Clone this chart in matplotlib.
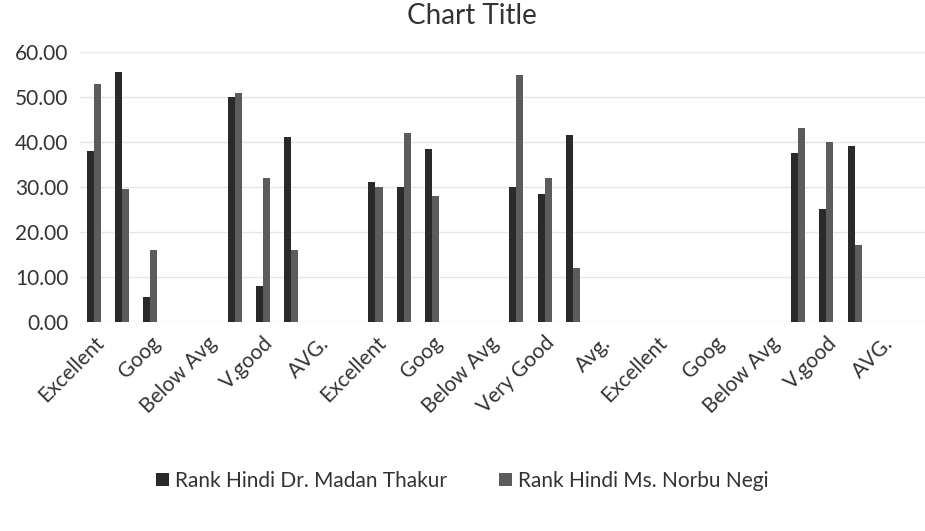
import numpy as np
import matplotlib
matplotlib.use("Agg")
import matplotlib.pyplot as plt

# 30 category slots on the x axis, Excel shows a label on every 2nd one
n_slots = 30
labels = ['Excellent', 'Goog', 'Below Avg', 'V.good', 'AVG.',
          'Excellent', 'Goog', 'Below Avg', 'Very Good', 'Avg.',
          'Excellent', 'Goog', 'Below Avg', 'V.good', 'AVG.']

nan = np.nan
# Rank Hindi Dr. Madan Thakur
madan = [38, 55.5, 5.5, nan, nan,
         50, 8, 41, nan, nan,
         31, 30, 38.5, nan, nan,
         30, 28.5, 41.5, nan, nan,
         nan, nan, nan, nan, nan,
         37.5, 25, 39, nan, nan]
# Rank Hindi Ms. Norbu Negi
norbu = [53, 29.5, 16, nan, nan,
         51, 32, 16, nan, nan,
         30, 42, 28, nan, nan,
         55, 32, 12, nan, nan,
         nan, nan, nan, nan, nan,
         43, 40, 17, nan, nan]

series_names = ['Rank Hindi Dr. Madan Thakur', 'Rank Hindi Ms. Norbu Negi']
colors = ['#2a2a2a', '#5c5c5c']

plt.rcParams['font.family'] = ['Lato', 'DejaVu Sans']

fig = plt.figure(figsize=(9.25, 5.31), dpi=100)
ax = fig.add_axes([0.086, 0.394, 0.914, 0.508])

x = np.arange(n_slots)
w = 0.25
ax.bar(x - w / 2, madan, width=w, color=colors[0], label=series_names[0])
ax.bar(x + w / 2, norbu, width=w, color=colors[1], label=series_names[1])

ax.set_xlim(-0.5, n_slots - 0.5)
ax.set_ylim(0, 60)
ax.set_yticks(np.arange(0, 61, 10))
ax.set_yticklabels([f'{v:.2f}' for v in np.arange(0, 61, 10)], fontsize=15, color='#333333')
ax.set_xticks(x[::2])
ax.set_xticklabels(labels, rotation=45, ha='right', rotation_mode='anchor',
                   fontsize=15, color='#333333')
ax.tick_params(axis='both', length=0, pad=8)
ax.grid(axis='y', color='#e6e6e6', linewidth=1)
ax.set_axisbelow(True)
for s in ax.spines.values():
    s.set_visible(False)

fig.text(0.51, 0.995, 'Chart Title', ha='center', va='top', fontsize=20, color='#333333')

fig.legend(loc='center', bbox_to_anchor=(0.5, 0.095), ncol=2, frameon=False,
           fontsize=15, handlelength=0.6, handleheight=0.6, handletextpad=0.3,
           columnspacing=2.5, labelcolor='#333333')

fig.savefig('out.png', dpi=100, facecolor='white')
